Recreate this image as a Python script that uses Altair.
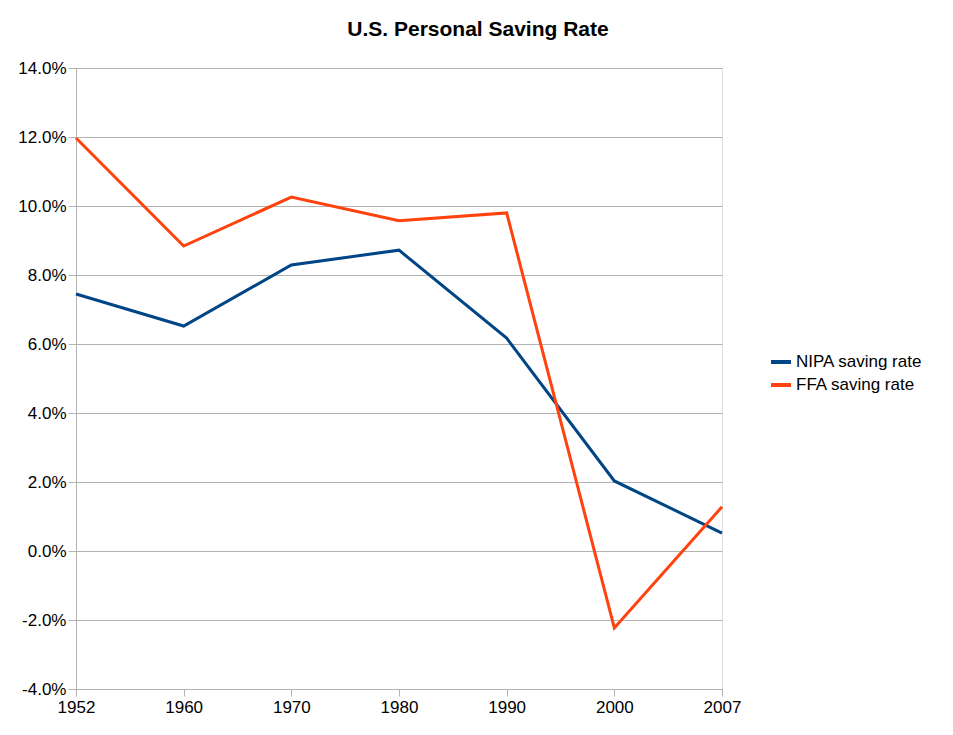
import altair as alt
import pandas as pd

years = ["1952", "1960", "1970", "1980", "1990", "2000", "2007"]
nipa = [7.45, 6.52, 8.29, 8.72, 6.17, 2.03, 0.52]
ffa = [11.97, 8.84, 10.26, 9.57, 9.80, -2.23, 1.28]
series = ["NIPA saving rate", "FFA saving rate"]
colors = ["#004586", "#ff420e"]

rows = []
for y, v in zip(years, nipa):
    rows.append({"year": y, "rate": v, "series": series[0]})
for y, v in zip(years, ffa):
    rows.append({"year": y, "rate": v, "series": series[1]})
df = pd.DataFrame(rows)

FONT = "Liberation Sans"
GRID = "#b3b3b3"

chart = alt.Chart(df).mark_line(strokeWidth=3).encode(
    x=alt.X("year:O", sort=years, title=None,
            scale=alt.Scale(padding=0),
            axis=alt.Axis(labelAngle=0, grid=False, domainColor=GRID, tickColor=GRID,
                          tickSize=7, labelPadding=3, labelFontSize=17, labelColor="black",
                          labelFont=FONT)),
    y=alt.Y("rate:Q", title=None,
            scale=alt.Scale(domain=[-4, 14], nice=False, zero=False),
            axis=alt.Axis(values=[-4, -2, 0, 2, 4, 6, 8, 10, 12, 14],
                          labelExpr="(datum.value < 0 ? '-' : '') + format(abs(datum.value), '.1f') + '%'",
                          gridColor=GRID, domainColor=GRID, tickColor=GRID,
                          tickSize=8, labelPadding=2, labelFontSize=17, labelColor="black",
                          labelFont=FONT)),
    color=alt.Color("series:N", sort=series,
                    scale=alt.Scale(domain=series, range=colors),
                    legend=alt.Legend(title=None, orient="none", legendX=693, legendY=282,
                                      symbolType="stroke", symbolSize=400, symbolStrokeWidth=4,
                                      labelFontSize=17, labelFont=FONT, labelColor="black",
                                      rowPadding=3, labelOffset=3, padding=0)),
).properties(
    width=646,
    height=621,
    title=alt.TitleParams("U.S. Personal Saving Rate", font=FONT, fontSize=21, fontWeight="bold",
                          color="black", anchor="middle", baseline="bottom",
                          offset=20, dx=79, dy=22),
    autosize=alt.AutoSizeParams(type="none"),
    padding={"left": 68, "top": 60, "right": 215, "bottom": 30},
).configure_view(stroke=GRID, strokeWidth=1).configure(background="white")

chart.save("out.html", embed_options={"renderer": "svg", "actions": False})
